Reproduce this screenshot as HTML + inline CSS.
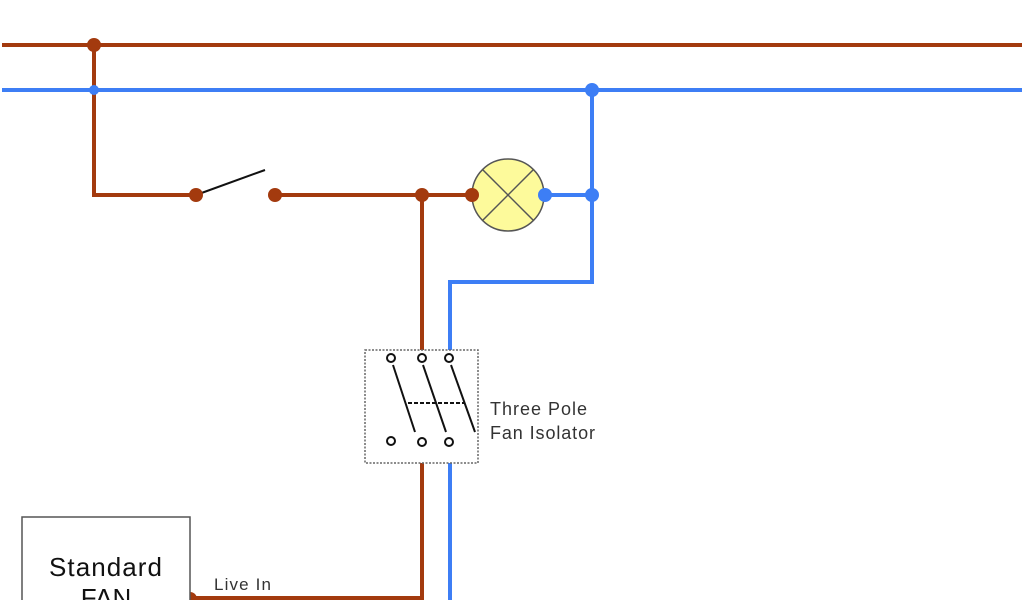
<!DOCTYPE html>
<html><head><style>body{margin:0;background:#fff}svg{display:block}</style></head><body>
<svg width="1024" height="600" viewBox="0 0 1024 600" xmlns="http://www.w3.org/2000/svg" font-family="Liberation Sans, sans-serif">
<g fill="none" stroke-width="4">
<line x1="2" y1="45" x2="1022" y2="45" stroke="#a33a0e"/>
<line x1="2" y1="90" x2="1022" y2="90" stroke="#3d7ef5"/>
<polyline points="94,45 94,195 196,195" stroke="#a33a0e"/>
<line x1="275" y1="195" x2="472" y2="195" stroke="#a33a0e"/>
<line x1="422" y1="195" x2="422" y2="350" stroke="#a33a0e"/>
<line x1="422" y1="463" x2="422" y2="600" stroke="#a33a0e"/>
<line x1="190" y1="598" x2="424" y2="598" stroke="#a33a0e"/>
<line x1="545" y1="195" x2="592" y2="195" stroke="#3d7ef5"/>
<polyline points="592,90 592,282 450,282 450,350" stroke="#3d7ef5"/>
<line x1="450" y1="463" x2="450" y2="600" stroke="#3d7ef5"/>
</g>
<line x1="196" y1="195" x2="265" y2="170" stroke="#111" stroke-width="2"/>
<circle cx="508" cy="195" r="36" fill="#fdfa9b" stroke="#555" stroke-width="1.5"/>
<line x1="483" y1="170" x2="533" y2="220" stroke="#555" stroke-width="1.5"/>
<line x1="533" y1="170" x2="483" y2="220" stroke="#555" stroke-width="1.5"/>
<g fill="#a33a0e">
<circle cx="94" cy="45" r="7"/><circle cx="196" cy="195" r="7"/><circle cx="275" cy="195" r="7"/>
<circle cx="422" cy="195" r="7"/><circle cx="472" cy="195" r="7"/><circle cx="190" cy="599" r="7"/>
</g>
<g fill="#3d7ef5">
<circle cx="94" cy="90" r="5"/><circle cx="592" cy="90" r="7"/><circle cx="545" cy="195" r="7"/><circle cx="592" cy="195" r="7"/>
</g>
<rect x="365" y="350" width="113" height="113" fill="#fff" stroke="#666" stroke-width="1.5" stroke-dasharray="2,1.5"/>
<g stroke="#111" stroke-width="2" fill="#fff">
<line x1="393" y1="365" x2="415" y2="432"/><line x1="423" y1="365" x2="446" y2="432"/><line x1="451" y1="365" x2="475" y2="432"/>
<line x1="408" y1="403" x2="465" y2="403" stroke-dasharray="4,2"/>
<circle cx="391" cy="358" r="4"/><circle cx="422" cy="358" r="4"/><circle cx="449" cy="358" r="4"/>
<circle cx="391" cy="441" r="4"/><circle cx="422" cy="442" r="4"/><circle cx="449" cy="442" r="4"/>
</g>
<text x="490" y="415" font-size="18" fill="#333" textLength="97">Three Pole</text>
<text x="490" y="439" font-size="18" fill="#333" textLength="105">Fan Isolator</text>
<rect x="22" y="517" width="168" height="100" fill="#fff" stroke="#555" stroke-width="1.5"/>
<text x="49" y="576" font-size="26" fill="#111" textLength="113">Standard</text>
<text x="106" y="607" font-size="26" fill="#111" text-anchor="middle">FAN</text>
<text x="214" y="590" font-size="17" fill="#333" textLength="57">Live In</text>
</svg>
</body></html>
